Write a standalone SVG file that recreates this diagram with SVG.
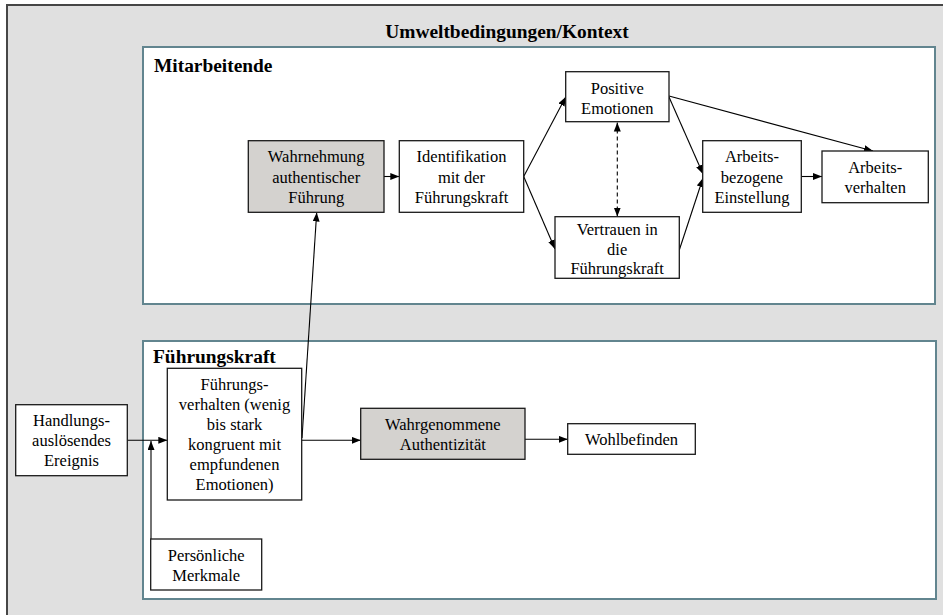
<svg xmlns="http://www.w3.org/2000/svg" width="943" height="615" viewBox="0 0 943 615">
  <style>
    .frame { fill: #e0e0e0; stroke: #464646; stroke-width: 2; }
    .area { fill: #ffffff; stroke: #62858f; stroke-width: 2; }
    .node { fill: #ffffff; stroke: #1a1a1a; stroke-width: 1.3; }
    .node.shaded { fill: #d4d2cf; }
    .head { font-family: "Liberation Serif", "Times New Roman", serif; font-weight: bold; font-size: 19.4px; fill: #000; }
    .lbl { font-family: "Liberation Serif", "Times New Roman", serif; font-size: 16.5px; fill: #000; text-anchor: middle; }
    .edge { fill: none; stroke: #000; stroke-width: 1.1; marker-end: url(#arrow); }
    .dashed { stroke-dasharray: 4 3; marker-start: url(#arrowStart); }
  </style>
  <defs>
    <marker id="arrow" markerUnits="userSpaceOnUse" markerWidth="10" markerHeight="8" refX="9" refY="3.5" orient="auto">
      <path d="M0,0 L9,3.5 L0,7 z" fill="#000"/>
    </marker>
    <marker id="arrowStart" markerUnits="userSpaceOnUse" markerWidth="10" markerHeight="8" refX="0" refY="3.5" orient="auto">
      <path d="M9,0 L0,3.5 L9,7 z" fill="#000"/>
    </marker>
  </defs>

  <!-- context frame -->
  <rect class="frame" x="7" y="5" width="960" height="640"/>
  <text class="head" x="507" y="38" text-anchor="middle">Umweltbedingungen/Kontext</text>

  <!-- employee and leader areas -->
  <g id="area-mitarbeitende">
    <rect class="area" x="143" y="47" width="792" height="257"/>
    <text class="head" x="154" y="71.5">Mitarbeitende</text>
  </g>
  <g id="area-fuehrungskraft">
    <rect class="area" x="143" y="341" width="793" height="258"/>
    <text class="head" x="153" y="363">Führungskraft</text>
  </g>

  <!-- connectors -->
  <g id="connectors">
    <line class="edge" x1="384" y1="176.5" x2="399.3" y2="176.5"/>
    <line class="edge" x1="523.7" y1="176.5" x2="565.7" y2="97"/>
    <line class="edge" x1="523.7" y1="176.5" x2="555" y2="249"/>
    <line class="edge" x1="669" y1="97" x2="703" y2="174"/>
    <line class="edge" x1="679.3" y1="250" x2="703" y2="178"/>
    <line class="edge" x1="669" y1="96" x2="873" y2="151"/>
    <line class="edge" x1="801.3" y1="176.5" x2="822" y2="176.5"/>
    <line class="edge dashed" x1="617.3" y1="122.5" x2="617.3" y2="216.5"/>
    <line class="edge" x1="127.3" y1="440.3" x2="167.3" y2="440.3"/>
    <line class="edge" x1="151" y1="539" x2="151" y2="441"/>
    <line class="edge" x1="301.7" y1="440.3" x2="360.7" y2="440.3"/>
    <line class="edge" x1="302" y1="438" x2="316.7" y2="212.5"/>
    <line class="edge" x1="525" y1="439.3" x2="567.7" y2="439.3"/>
  </g>

  <!-- employee side -->
  <g id="wahrnehmung">
    <rect class="node shaded" x="248.3" y="140.7" width="135.7" height="71.6"/>
    <text class="lbl" x="316.2" y="162">Wahrnehmung</text>
    <text class="lbl" x="316.2" y="182.5">authentischer</text>
    <text class="lbl" x="316.2" y="203">Führung</text>
  </g>
  <g id="identifikation">
    <rect class="node" x="399.3" y="140.7" width="124.4" height="71.6"/>
    <text class="lbl" x="461.5" y="162">Identifikation</text>
    <text class="lbl" x="461.5" y="182.5">mit der</text>
    <text class="lbl" x="461.5" y="203">Führungskraft</text>
  </g>
  <g id="positive-emotionen">
    <rect class="node" x="565.7" y="71.7" width="103.3" height="50"/>
    <text class="lbl" x="617.3" y="94">Positive</text>
    <text class="lbl" x="617.3" y="113.5">Emotionen</text>
  </g>
  <g id="vertrauen">
    <rect class="node" x="555" y="216.7" width="124.3" height="61.6"/>
    <text class="lbl" x="617.2" y="235">Vertrauen in</text>
    <text class="lbl" x="617.2" y="254.5">die</text>
    <text class="lbl" x="617.2" y="274">Führungskraft</text>
  </g>
  <g id="einstellung">
    <rect class="node" x="702.7" y="140.7" width="98.6" height="71.6"/>
    <text class="lbl" x="752" y="162">Arbeits-</text>
    <text class="lbl" x="752" y="182.5">bezogene</text>
    <text class="lbl" x="752" y="203">Einstellung</text>
  </g>
  <g id="arbeitsverhalten">
    <rect class="node" x="822" y="151" width="106.3" height="51.7"/>
    <text class="lbl" x="875.2" y="172.5">Arbeits-</text>
    <text class="lbl" x="875.2" y="192.5">verhalten</text>
  </g>

  <!-- leader side -->
  <g id="ereignis">
    <rect class="node" x="15.7" y="404.7" width="111.6" height="71"/>
    <text class="lbl" x="71.5" y="426">Handlungs-</text>
    <text class="lbl" x="71.5" y="446">auslösendes</text>
    <text class="lbl" x="71.5" y="466">Ereignis</text>
  </g>
  <g id="fuehrungsverhalten">
    <rect class="node" x="167.3" y="368.3" width="134.4" height="131.7"/>
    <text class="lbl" x="234.5" y="390">Führungs-</text>
    <text class="lbl" x="234.5" y="410">verhalten (wenig</text>
    <text class="lbl" x="234.5" y="430">bis stark</text>
    <text class="lbl" x="234.5" y="450">kongruent mit</text>
    <text class="lbl" x="234.5" y="470">empfundenen</text>
    <text class="lbl" x="234.5" y="490">Emotionen)</text>
  </g>
  <g id="merkmale">
    <rect class="node" x="150.7" y="539" width="111" height="51"/>
    <text class="lbl" x="206.2" y="561">Persönliche</text>
    <text class="lbl" x="206.2" y="581">Merkmale</text>
  </g>
  <g id="authentizitaet">
    <rect class="node shaded" x="360.7" y="408.3" width="164.3" height="51"/>
    <text class="lbl" x="442.8" y="430">Wahrgenommene</text>
    <text class="lbl" x="442.8" y="450">Authentizität</text>
  </g>
  <g id="wohlbefinden">
    <rect class="node" x="567.7" y="423.7" width="127.6" height="30.6"/>
    <text class="lbl" x="631.5" y="445">Wohlbefinden</text>
  </g>
</svg>
